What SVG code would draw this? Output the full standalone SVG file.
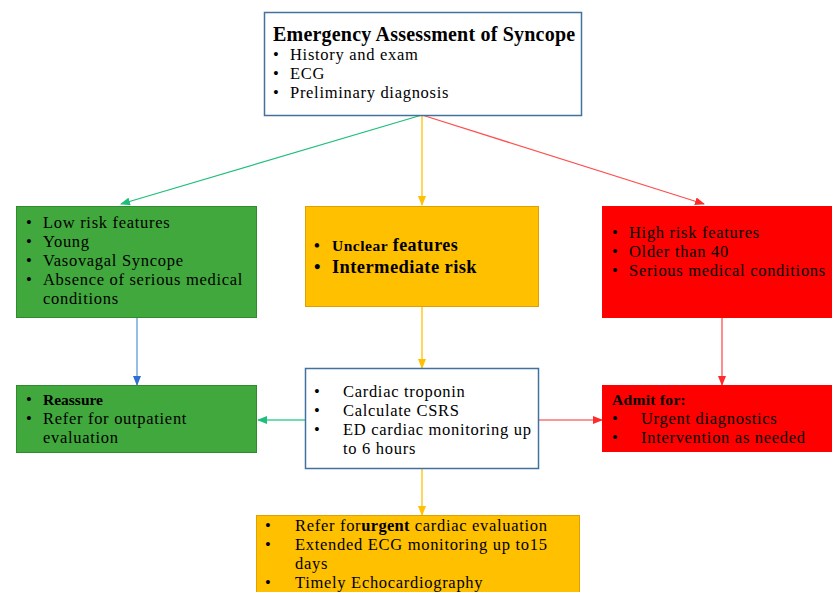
<svg xmlns="http://www.w3.org/2000/svg" width="832" height="592" viewBox="0 0 832 592">
<defs>
<style>
text{font-family:"Liberation Serif","DejaVu Serif",serif;font-size:16.5px;letter-spacing:0.7px;fill:#000}
.b{font-weight:bold;letter-spacing:0.3px}
.line{fill:none;stroke-width:1.3}
</style>
<marker id="mg" markerWidth="10" markerHeight="8" refX="9" refY="4" orient="auto" markerUnits="userSpaceOnUse"><path d="M0,0L10,4L0,8z" fill="#1fbf7a"/></marker>
<marker id="my" markerWidth="10" markerHeight="8" refX="9" refY="4" orient="auto" markerUnits="userSpaceOnUse"><path d="M0,0L10,4L0,8z" fill="#ffc000"/></marker>
<marker id="mr" markerWidth="10" markerHeight="8" refX="9" refY="4" orient="auto" markerUnits="userSpaceOnUse"><path d="M0,0L10,4L0,8z" fill="#ff2a2a"/></marker>
<marker id="mb" markerWidth="10" markerHeight="8" refX="9" refY="4" orient="auto" markerUnits="userSpaceOnUse"><path d="M0,0L10,4L0,8z" fill="#2f6fd0"/></marker>
</defs>
<rect width="832" height="592" fill="#fff"/>
<g id="connectors">
<line class="line" x1="422" y1="115" x2="121" y2="204" stroke="#1fbf7a" marker-end="url(#mg)"/>
<line class="line" x1="422" y1="115" x2="422" y2="205" stroke="#ffc000" marker-end="url(#my)"/>
<line class="line" x1="422" y1="115" x2="704" y2="204" stroke="#ff5050" marker-end="url(#mr)"/>
<line class="line" x1="137" y1="318" x2="137" y2="385" stroke="#5b9bd5" marker-end="url(#mb)"/>
<line class="line" x1="422" y1="307" x2="422" y2="368" stroke="#ffc000" marker-end="url(#my)"/>
<line class="line" x1="722" y1="318" x2="722" y2="385" stroke="#ff5050" marker-end="url(#mr)"/>
<line class="line" x1="305" y1="420" x2="258" y2="420" stroke="#3fd19a" marker-end="url(#mg)"/>
<line class="line" x1="539" y1="420" x2="602" y2="420" stroke="#ff7070" marker-end="url(#mr)"/>
<line class="line" x1="422" y1="469" x2="422" y2="515" stroke="#ffc000" marker-end="url(#my)"/>
</g>
<g id="top">
<rect x="264.5" y="12.5" width="317" height="103" fill="#fff" stroke="#41719c" stroke-width="1.5"/>
<text x="273" y="41" class="b" style="font-size:20px;letter-spacing:0.2px">Emergency Assessment of Syncope</text>
<text x="273" y="60">•</text><text x="290" y="60">History and exam</text>
<text x="273" y="79">•</text><text x="290" y="79">ECG</text>
<text x="273" y="98">•</text><text x="290" y="98">Preliminary diagnosis</text>
</g>
<g id="low">
<rect x="16.5" y="206.5" width="240" height="111" fill="#40a83c" stroke="#2e8b2e" stroke-width="1"/>
<text x="26" y="228">•</text><text x="43" y="228">Low risk features</text>
<text x="26" y="247">•</text><text x="43" y="247">Young</text>
<text x="26" y="266">•</text><text x="43" y="266">Vasovagal Syncope</text>
<text x="26" y="285">•</text><text x="43" y="285">Absence of serious medical</text>
<text x="43" y="304">conditions</text>
</g>
<g id="intermediate">
<rect x="305.5" y="206.5" width="233" height="100" fill="#ffc000" stroke="#e0a000" stroke-width="1"/>
<text x="314" y="251" class="b">•</text><text x="332" y="251" class="b" style="letter-spacing:0.5px"><tspan style="font-size:15.5px">Unclear</tspan> <tspan style="font-size:18px">features</tspan></text>
<text x="314" y="273" class="b" style="font-size:18.5px">•</text><text x="332" y="273" class="b" style="font-size:18.5px;letter-spacing:0.4px">Intermediate risk</text>
</g>
<g id="high">
<rect x="602" y="206" width="232" height="112" fill="#ff0000"/>
<text x="612" y="238">•</text><text x="629" y="238">High risk features</text>
<text x="612" y="257">•</text><text x="629" y="257">Older than 40</text>
<text x="612" y="276">•</text><text x="629" y="276">Serious medical conditions</text>
</g>
<g id="reassure">
<rect x="16.5" y="385.5" width="240" height="67" fill="#40a83c" stroke="#2e8b2e" stroke-width="1"/>
<text x="26" y="405">•</text><text x="43" y="405" class="b" style="font-size:15.5px;letter-spacing:0">Reassure</text>
<text x="26" y="424">•</text><text x="43" y="424">Refer for outpatient</text>
<text x="43" y="443">evaluation</text>
</g>
<g id="tests">
<rect x="305.5" y="368.5" width="233" height="100" fill="#fff" stroke="#41719c" stroke-width="1.5"/>
<text x="314" y="397">•</text><text x="343" y="397">Cardiac troponin</text>
<text x="314" y="416">•</text><text x="343" y="416">Calculate CSRS</text>
<text x="314" y="435">•</text><text x="343" y="435">ED cardiac monitoring up</text>
<text x="343" y="454">to 6 hours</text>
</g>
<g id="admit">
<rect x="602" y="385" width="232" height="67" fill="#ff0000"/>
<text x="612" y="405" class="b" style="font-size:15.5px">Admit for:</text>
<text x="612" y="424">•</text><text x="641" y="424">Urgent diagnostics</text>
<text x="612" y="443">•</text><text x="641" y="443">Intervention as needed</text>
</g>
<g id="urgent">
<rect x="256.5" y="515.5" width="323" height="80" fill="#ffc000" stroke="#e0a000" stroke-width="1"/>
<text x="265" y="531">•</text><text x="295" y="531">Refer for<tspan class="b">urgent</tspan> cardiac evaluation</text>
<text x="265" y="550">•</text><text x="295" y="550">Extended ECG monitoring up to15</text>
<text x="295" y="569">days</text>
<text x="265" y="588">•</text><text x="295" y="588">Timely Echocardiography</text>
</g>
</svg>
